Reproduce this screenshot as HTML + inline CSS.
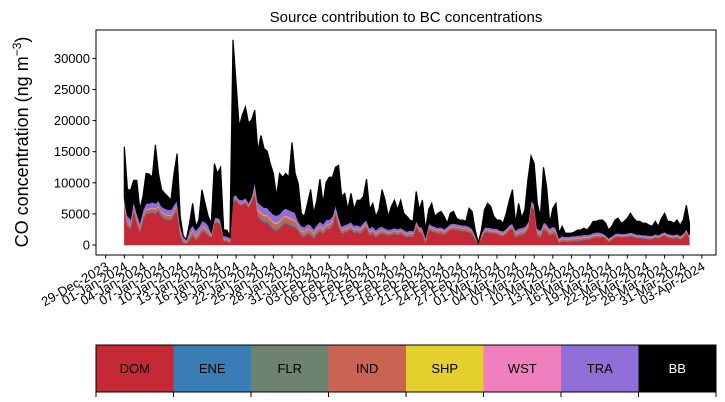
<!DOCTYPE html>
<html><head><meta charset="utf-8">
<style>
html,body{margin:0;padding:0;background:#fff;}
svg{display:block;font-family:"Liberation Sans","DejaVu Sans",sans-serif;}
</style></head>
<body>
<svg id="chart" width="725" height="402" viewBox="0 0 725 402" xmlns="http://www.w3.org/2000/svg">
<text x="406" y="22" text-anchor="middle" font-size="15">Source contribution to BC concentrations</text>
<text transform="translate(28,142) rotate(-90)" text-anchor="middle" font-size="18">CO concentration (ng m<tspan baseline-shift="super" font-size="12">−3</tspan>)</text>
<g id="marks"></g>
<rect x="96" y="30" width="620" height="225" fill="none" stroke="#000" stroke-width="1"/>
<g id="yaxis"></g>
<g id="xaxis"></g>
<g id="colorbar"></g>
</svg>
<script>
// ---- data ----
const yTicks = [0, 5000, 10000, 15000, 20000, 25000, 30000];
const xTickLabels = ["29-Dec-2023","01-Jan-2024","04-Jan-2024","07-Jan-2024","10-Jan-2024","13-Jan-2024","16-Jan-2024","19-Jan-2024","22-Jan-2024","25-Jan-2024","28-Jan-2024","31-Jan-2024","03-Feb-2024","06-Feb-2024","09-Feb-2024","12-Feb-2024","15-Feb-2024","18-Feb-2024","21-Feb-2024","24-Feb-2024","27-Feb-2024","01-Mar-2024","04-Mar-2024","07-Mar-2024","10-Mar-2024","13-Mar-2024","16-Mar-2024","19-Mar-2024","22-Mar-2024","25-Mar-2024","28-Mar-2024","31-Mar-2024","03-Apr-2024"];
const sources = ["DOM","ENE","FLR","IND","SHP","WST","TRA","BB"];
const sourceColors = ["#c62936","#3a7db5","#6e8271","#c96352","#e3cf2e","#f07fbd","#9070d8","#000000"];
// half-day total concentration (top of stack), starting 01-Jan-2024
const totalSeries = [15800,9000,8800,10400,10400,5700,7800,11500,11400,10900,16100,11500,8900,8300,7800,7200,11500,14700,4600,1400,900,3500,6700,3000,4000,8900,6700,4600,3500,13100,11500,12500,2400,2400,1400,33000,26000,19000,20900,22200,19600,20100,21700,15100,17600,15500,15100,13100,11500,7800,11500,10900,11500,10900,16500,11500,9900,5100,4600,6700,8900,5100,7200,10600,6700,10100,10900,10900,12500,12800,7800,8300,5700,8300,5700,7200,7200,7800,10600,5700,6700,4600,5700,8900,7200,4600,6200,7200,5700,7200,5100,4600,4000,
3800,8600,5700,7200,2400,5700,6700,4600,5100,5400,4600,3500,5100,5400,4300,4000,4000,3800,5900,5400,2400,300,2400,5700,6700,6200,4600,4000,4000,3500,5100,7200,8900,3500,6700,4300,5700,10600,14300,13100,6700,4600,12500,9400,3500,5900,6700,1900,3000,1900,1900,1900,2100,2400,2400,2700,2400,3000,3800,3800,4000,4000,3500,2400,3000,4000,4300,3500,3800,4300,5100,4300,3800,3800,3500,3500,3200,3000,3800,3000,4300,5100,3800,3800,3500,4000,3200,4000,6400,3500];
// half-day DOM contribution
const domSeries = [5900,3000,2500,5500,3500,2000,4000,5000,5000,5200,5000,5500,4500,4200,4000,4000,4800,5500,1500,300,200,800,1500,700,1200,2200,2000,1500,1200,3500,3600,3200,600,600,300,7000,7200,6500,6400,6800,6000,7000,8000,4500,4000,3600,3600,3000,2500,2300,2600,3200,3500,3200,3000,2800,2300,1500,1300,1800,1600,1000,1700,2200,1800,2500,2500,3000,5000,3000,1800,2000,2200,2500,1900,2000,1800,2400,2800,1500,1800,1200,1600,1800,1700,1500,1600,1800,1600,1800,1500,1200,1400,
1300,3000,2000,1800,300,2500,2200,2000,1800,1900,1600,2000,2400,2500,2400,2300,2200,2200,2000,1800,800,200,1000,2000,2000,1900,1800,1800,1500,1400,1800,2400,2600,1200,1500,1600,1800,2500,6000,5500,1500,1200,2500,2200,1500,1800,1600,300,600,500,500,600,600,700,700,800,800,900,1100,1200,1200,1300,1000,500,800,1200,1300,1200,1200,1300,1400,1300,1100,1100,1000,1000,900,900,1200,1000,1300,1500,1200,1100,1000,1200,900,1200,2000,1000];
// weekly small contributions
const eneWeekly = [150,150,60,200,150,120,100,100,80,120,80,70,70,70];
const flrWeekly = [100,100,50,150,100,80,70,70,60,80,60,50,50,50];
const indWeekly = [450,450,200,700,450,350,300,300,250,350,250,150,150,150];
const shpWeekly = [60,60,30,90,60,50,40,40,40,50,40,30,30,30];
const wstWeekly = [80,80,40,120,80,60,50,50,50,60,50,40,40,40];
const traWeekly = [900,900,500,1200,800,600,450,450,400,550,400,300,300,300];

const NS = "http://www.w3.org/2000/svg";
const X0 = 105.7, PXDAY = 6.21, START = 3; // 01-Jan is day 3 after 29-Dec
const Y0 = 245, PXVAL = 31.1 / 5000;
function xScale(day){ return X0 + day * PXDAY; }
function yScale(v){ return Y0 - v * PXVAL; }
function mk(tag, attrs){ const e = document.createElementNS(NS, tag); for (const k in attrs) e.setAttribute(k, attrs[k]); return e; }

const n = totalSeries.length;
const layers = [];
for (let i = 0; i < n; i++) {
  const w = Math.min(13, Math.floor(i / 14));
  const dom = Math.min(domSeries[i], totalSeries[i]);
  const vals = [dom, eneWeekly[w], flrWeekly[w], indWeekly[w], shpWeekly[w], wstWeekly[w], traWeekly[w]];
  let s = 0; vals.forEach(v => s += v);
  if (s > totalSeries[i]) { const f = Math.max(0, totalSeries[i] - dom) / (s - dom || 1); for (let k = 1; k < 7; k++) vals[k] *= f; s = totalSeries[i]; }
  vals.push(Math.max(0, totalSeries[i] - s));
  layers.push(vals);
}
const marks = document.getElementById("marks");
let base = new Array(n).fill(0);
for (let k = 0; k < sources.length; k++) {
  const top = base.map((b, i) => b + layers[i][k]);
  let d = "";
  for (let i = 0; i < n; i++) d += (i ? "L" : "M") + xScale(START + i / 2).toFixed(2) + "," + yScale(top[i]).toFixed(2);
  for (let i = n - 1; i >= 0; i--) d += "L" + xScale(START + i / 2).toFixed(2) + "," + yScale(base[i]).toFixed(2);
  d += "Z";
  const p = mk("path", {d: d, fill: sourceColors[k], stroke: sourceColors[k], "stroke-width": k === 7 ? 1.2 : 0.4});
  
  
  marks.appendChild(p);
  base = top;
}

const ya = document.getElementById("yaxis");
yTicks.forEach(v => {
  const y = yScale(v);
  const t = mk("line", {x1: 92.5, x2: 96, y1: y, y2: y, stroke: "#000", "stroke-width": 1});
  
  
  ya.appendChild(t);
  const l = mk("text", {x: 90, y: y + 4.5, "text-anchor": "end", "font-size": 13});
  
  
  l.textContent = v;
  ya.appendChild(l);
});

const xa = document.getElementById("xaxis");
xTickLabels.forEach((lab, i) => {
  const x = xScale(i * 3);
  const t = mk("line", {x1: x, x2: x, y1: 255, y2: 258.5, stroke: "#000", "stroke-width": 1});
  
  
  xa.appendChild(t);
  const l = mk("text", {"text-anchor": "end", "font-size": 13, transform: "translate(" + (x + 4) + ",269) rotate(-30)"});
  
  
  l.textContent = lab;
  xa.appendChild(l);
});

const cb = document.getElementById("colorbar");
const CBX = 96, CBW = 620 / sources.length;
sources.forEach((s, i) => {
  const r = mk("rect", {x: CBX + i * CBW, y: 345, width: CBW, height: 47, fill: sourceColors[i]});
  
  
  cb.appendChild(r);
  const l = mk("text", {x: CBX + i * CBW + CBW / 2, y: 373, "text-anchor": "middle", "font-size": 13, fill: s === "BB" ? "#fff" : "#000"});
  
  
  l.textContent = s;
  cb.appendChild(l);
});
for (let i = 0; i <= sources.length; i++) {
  const x = CBX + i * CBW;
  const t = mk("line", {x1: x, x2: x, y1: 392, y2: 397, stroke: "#000", "stroke-width": 1});
  
  
  cb.appendChild(t);
}
const frame = mk("rect", {x: CBX, y: 345, width: 620, height: 47, fill: "none", stroke: "#000", "stroke-width": 1});


cb.appendChild(frame);
</script>
</body></html>
